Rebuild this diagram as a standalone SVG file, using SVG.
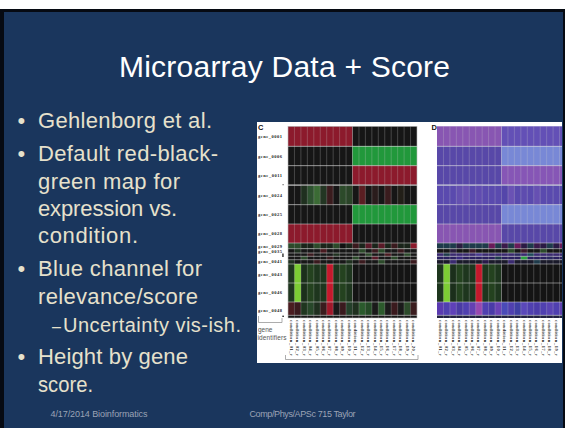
<svg xmlns="http://www.w3.org/2000/svg" width="565" height="428" viewBox="0 0 565 428">
  <style>
    .txt{font-family:"Liberation Sans",Arial,sans-serif;fill:#e6e1cc}
    .title{font-family:"Liberation Sans",Arial,sans-serif;font-size:30px;fill:#ffffff}
    .b{font-size:22px}
    .sub{font-size:20px}
    .dash{font-size:16px}
    .foot{font-family:"Liberation Sans",Arial,sans-serif;font-size:9px;fill:#9aa3b5}
    .gl{font-family:"Liberation Serif",serif;font-weight:bold;font-size:4.5px;fill:#222222}
    .cl{font-family:"Liberation Serif",serif;font-weight:bold;font-size:4.4px;fill:#1e1e1e}
    .pl{font-family:"Liberation Sans",Arial,sans-serif;font-weight:bold;font-size:7.5px;fill:#111111}
    .gi{font-family:"Liberation Sans",Arial,sans-serif;font-size:6.5px;fill:#555555}
    .hl{stroke:#dcdcdc;stroke-opacity:0.65;stroke-width:0.8;fill:none}
    .vl{stroke:#cfcfcf;stroke-opacity:0.45;stroke-width:0.6;fill:none}
    .br{stroke:#8a8a8a;stroke-width:0.7;fill:none}
  </style>
  <defs>
    <clipPath id="panelClip"><rect x="257" y="122" width="305" height="241"/></clipPath>
  </defs>

  <!-- slide frame -->
  <rect x="0" y="0" width="565" height="428" fill="#ffffff"/>
  <rect x="0" y="9" width="565" height="419" fill="#060a12"/>
  <rect x="4" y="12" width="559" height="416" fill="#1a365d"/>

  <!-- title -->
  <text id="title" class="title" x="119" y="77" textLength="331">Microarray Data + Score</text>

  <!-- bullet list -->
  <g id="bullets" class="txt">
    <text class="b" x="17.5" y="128">•</text>
    <text class="b" x="38" y="128" textLength="174">Gehlenborg et al.</text>
    <text class="b" x="17.5" y="161">•</text>
    <text class="b" x="38" y="161" textLength="180">Default red-black-</text>
    <text class="b" x="38" y="188.5" textLength="142">green map for</text>
    <text class="b" x="38" y="215.5" textLength="139">expression vs.</text>
    <text class="b" x="38" y="242.5" textLength="100">condition.</text>
    <text class="b" x="17.5" y="276">•</text>
    <text class="b" x="38" y="276" textLength="164">Blue channel for</text>
    <text class="b" x="38" y="303.5" textLength="160">relevance/score</text>
    <text class="dash" x="52" y="331.5">–</text>
    <text class="sub" x="63" y="331.5" textLength="178">Uncertainty vis-ish.</text>
    <text class="b" x="17.5" y="364">•</text>
    <text class="b" x="38" y="364" textLength="150">Height by gene</text>
    <text class="b" x="38" y="391.5" textLength="55" lengthAdjust="spacingAndGlyphs">score.</text>
  </g>

  <!-- footer -->
  <g id="footer">
    <text class="foot" x="50.5" y="417" textLength="97">4/17/2014 Bioinformatics</text>
    <text class="foot" x="249.5" y="417" textLength="106">Comp/Phys/APSc  715 Taylor</text>
  </g>

  <!-- heatmap figure -->
  <g id="figure" clip-path="url(#panelClip)">
    <rect x="257" y="122" width="305" height="241" fill="#ffffff"/>

    <!-- panel C: red-black-green expression map -->
    <g id="panel-c">
      <text class="pl" x="258" y="129.5">C</text>
      <!-- uniform blocks -->
      <rect x="288" y="126.3" width="64.5" height="20" fill="#8c1a2c"/>
      <rect x="352.5" y="126.3" width="64.5" height="20" fill="#161616"/>
      <rect x="288" y="146.3" width="64.5" height="19.4" fill="#161616"/>
      <rect x="352.5" y="146.3" width="64.5" height="19.4" fill="#21983b"/>
      <rect x="288" y="165.7" width="64.5" height="19" fill="#161616"/>
      <rect x="352.5" y="165.7" width="64.5" height="19" fill="#8c1a2c"/>
      <rect x="288" y="184.7" width="129" height="1" fill="#666666"/>
      <rect x="288" y="204.7" width="64.5" height="19.3" fill="#161616"/>
      <rect x="352.5" y="204.7" width="64.5" height="19.3" fill="#21983b"/>
      <rect x="288" y="224" width="64.5" height="19" fill="#8c1a2c"/>
      <rect x="352.5" y="224" width="64.5" height="19" fill="#161616"/>
      <!-- gene_0024 -->
      <rect x="288" y="185.7" width="129" height="19" fill="#161616"/>
      <g>
        <rect x="300.9" y="185.7" width="6.5" height="19" fill="#1f301f"/>
        <rect x="307.35" y="185.7" width="6.5" height="19" fill="#2e5230"/>
        <rect x="313.8" y="185.7" width="6.5" height="19" fill="#3b6b35"/>
        <rect x="320.25" y="185.7" width="6.5" height="19" fill="#233623"/>
        <rect x="326.7" y="185.7" width="6.5" height="19" fill="#3a1c1e"/>
        <rect x="339.6" y="185.7" width="6.5" height="19" fill="#2c4a2a"/>
        <rect x="346.05" y="185.7" width="6.5" height="19" fill="#2a4428"/>
        <rect x="358.95" y="185.7" width="6.5" height="19" fill="#5a1e22"/>
        <rect x="371.85" y="185.7" width="6.5" height="19" fill="#2a1c1c"/>
        <rect x="384.75" y="185.7" width="6.5" height="19" fill="#3a1c1e"/>
        <rect x="397.65" y="185.7" width="6.5" height="19" fill="#221f18"/>
      </g>
      <!-- gene_0029 -->
      <rect x="288" y="243" width="129" height="5.7" fill="#1a241a"/>
      <g>
        <rect x="288" y="243" width="6.5" height="5.7" fill="#2c4a2a"/>
        <rect x="294.45" y="243" width="6.5" height="5.7" fill="#2c4a2a"/>
        <rect x="313.8" y="243" width="6.5" height="5.7" fill="#2c4a2a"/>
        <rect x="333.15" y="243" width="6.5" height="5.7" fill="#2c4a2a"/>
        <rect x="339.6" y="243" width="6.5" height="5.7" fill="#111111"/>
        <rect x="352.5" y="243" width="6.5" height="5.7" fill="#3a1a1e"/>
        <rect x="365.4" y="243" width="6.5" height="5.7" fill="#5a1a28"/>
        <rect x="378.3" y="243" width="6.5" height="5.7" fill="#5a1a28"/>
        <rect x="391.2" y="243" width="6.5" height="5.7" fill="#3a1a1e"/>
        <rect x="410.55" y="243" width="6.5" height="5.7" fill="#8c1a2c"/>
      </g>
      <!-- gene_0035 and neighbours -->
      <rect x="288" y="248.7" width="129" height="15.3" fill="#171717"/>
      <g>
        <rect x="294.45" y="248.7" width="6.5" height="4.3" fill="#1f301f"/>
        <rect x="320.25" y="248.7" width="6.5" height="4.3" fill="#4a1a20"/>
        <rect x="358.95" y="248.7" width="6.5" height="4.3" fill="#2c4a2a"/>
        <rect x="371.85" y="248.7" width="6.5" height="4.3" fill="#3a1a1e"/>
        <rect x="378.3" y="248.7" width="6.5" height="4.3" fill="#2c4a2a"/>
        <rect x="397.65" y="248.7" width="6.5" height="4.3" fill="#3a1a1e"/>
        <rect x="307.35" y="253" width="6.5" height="3.3" fill="#3a1a1e"/>
        <rect x="333.15" y="253" width="6.5" height="3.3" fill="#1f301f"/>
        <rect x="365.4" y="253" width="6.5" height="3.3" fill="#2c4a2a"/>
        <rect x="384.75" y="253" width="6.5" height="3.3" fill="#4a1a20"/>
        <rect x="404.1" y="253" width="6.5" height="3.3" fill="#2c4a2a"/>
        <rect x="300.9" y="256.3" width="6.5" height="3.4" fill="#2c4a2a"/>
        <rect x="326.7" y="256.3" width="6.5" height="3.4" fill="#3a1a1e"/>
        <rect x="352.5" y="256.3" width="6.5" height="3.4" fill="#2c4a2a"/>
        <rect x="371.85" y="256.3" width="6.5" height="3.4" fill="#5a1a28"/>
        <rect x="391.2" y="256.3" width="6.5" height="3.4" fill="#2c4a2a"/>
        <rect x="288" y="259.7" width="6.5" height="4.3" fill="#1f301f"/>
        <rect x="313.8" y="259.7" width="6.5" height="4.3" fill="#3a1a1e"/>
        <rect x="346.05" y="259.7" width="6.5" height="4.3" fill="#1f301f"/>
        <rect x="358.95" y="259.7" width="6.5" height="4.3" fill="#3a1a1e"/>
        <rect x="378.3" y="259.7" width="6.5" height="4.3" fill="#2c4a2a"/>
        <rect x="410.55" y="259.7" width="6.5" height="4.3" fill="#3a1a1e"/>
      </g>
      <!-- gene_0043 / gene_0046 -->
      <rect x="288" y="264" width="64.5" height="38" fill="#1e361e"/>
      <rect x="352.5" y="264" width="64.5" height="38" fill="#141414"/>
      <rect x="300.9" y="264" width="6.5" height="38" fill="#1b2f1b"/>
      <rect x="307.35" y="264" width="6.5" height="38" fill="#24421f"/>
      <rect x="339.6" y="264" width="6.5" height="38" fill="#24421f"/>
      <rect x="294.45" y="264" width="6.5" height="38" fill="#7ccc34"/>
      <rect x="326.7" y="264" width="6.5" height="38" fill="#c4192c"/>
      <!-- gene_0048 -->
      <rect x="288" y="302" width="129" height="13.3" fill="#1a1a1a"/>
      <g>
        <rect x="288" y="302" width="6.5" height="13.3" fill="#4a1c20"/>
        <rect x="294.45" y="302" width="6.5" height="13.3" fill="#3a1a1e"/>
        <rect x="300.9" y="302" width="6.5" height="13.3" fill="#1f361f"/>
        <rect x="307.35" y="302" width="6.5" height="13.3" fill="#28482a"/>
        <rect x="313.8" y="302" width="6.5" height="13.3" fill="#1f2f1f"/>
        <rect x="320.25" y="302" width="6.5" height="13.3" fill="#3a1c1e"/>
        <rect x="326.7" y="302" width="6.5" height="13.3" fill="#a0182a"/>
        <rect x="339.6" y="302" width="6.5" height="13.3" fill="#3a1a1e"/>
        <rect x="346.05" y="302" width="6.5" height="13.3" fill="#24402a"/>
        <rect x="352.5" y="302" width="6.5" height="13.3" fill="#1f301f"/>
        <rect x="358.95" y="302" width="6.5" height="13.3" fill="#2a5a2c"/>
        <rect x="365.4" y="302" width="6.5" height="13.3" fill="#244a26"/>
        <rect x="378.3" y="302" width="6.5" height="13.3" fill="#2c5a2c"/>
        <rect x="391.2" y="302" width="6.5" height="13.3" fill="#3a1a1e"/>
        <rect x="404.1" y="302" width="6.5" height="13.3" fill="#2c4a2a"/>
        <rect x="410.55" y="302" width="6.5" height="13.3" fill="#3a1c1e"/>
      </g>
      <rect x="288" y="315.3" width="129" height="2.7" fill="#161616"/>
      <!-- grid -->
      <path class="vl" d="M294.45,126.3V318M300.9,126.3V318M307.35,126.3V318M313.8,126.3V318M320.25,126.3V318M326.7,126.3V318M333.15,126.3V318M339.6,126.3V318M346.05,126.3V318M352.5,126.3V318M358.95,126.3V318M365.4,126.3V318M371.85,126.3V318M378.3,126.3V318M384.75,126.3V318M391.2,126.3V318M397.65,126.3V318M404.1,126.3V318M410.55,126.3V318"/>
      <path class="hl" d="M288,146.3H417M288,165.7H417M288,185.2H417M288,204.7H417M288,224H417M288,243H417M288,248.7H417M288,253H417M288,256.3H417M288,259.7H417M288,264H417M288,283H417M288,302H417M288,315.3H417"/>
      <rect x="288" y="126.3" width="129" height="191.7" fill="none" stroke="#bbbbbb" stroke-width="0.6"/>
      <!-- gene identifiers -->
      <g>
        <text class="gl" x="258" y="137.5" textLength="24">gene_0001</text>
        <text class="gl" x="258" y="158" textLength="24">gene_0006</text>
        <text class="gl" x="258" y="177" textLength="24">gene_0011</text>
        <text class="gl" x="258" y="196.5" textLength="24">gene_0024</text>
        <text class="gl" x="258" y="216" textLength="24">gene_0025</text>
        <text class="gl" x="258" y="235" textLength="24">gene_0028</text>
        <text class="gl" x="258" y="247.5" textLength="24">gene_0029</text>
        <text class="gl" x="258" y="252.8" textLength="24">gene_0035</text>
        <text class="gl" x="258" y="262.8" textLength="24">gene_0041</text>
        <text class="gl" x="258" y="275.5" textLength="24">gene_0043</text>
        <text class="gl" x="258" y="294" textLength="24">gene_0046</text>
        <text class="gl" x="258" y="311.5" textLength="24">gene_0048</text>
        <rect x="282.5" y="184.3" width="1.2" height="0.9" fill="#333333"/>
        <rect x="282.3" y="253.5" width="1.3" height="3.5" fill="#222222"/>
        <rect x="282.4" y="315.6" width="1.4" height="1.4" fill="#111111"/>
      </g>
      <path class="br" d="M258.5,316V322.5H282V318"/>
      <text class="gi" x="258" y="332">gene</text>
      <text class="gi" x="257.5" y="340" textLength="29">identifiers</text>
      <!-- condition labels -->
      <g class="cl">
        <text transform="translate(291.2,320) rotate(90)" y="1.5" textLength="36">condition_01_r</text>
        <text transform="translate(297.65,320) rotate(90)" y="1.5" textLength="36">condition_02_r</text>
        <text transform="translate(304.1,320) rotate(90)" y="1.5" textLength="36">condition_03_r</text>
        <text transform="translate(310.55,320) rotate(90)" y="1.5" textLength="36">condition_04_r</text>
        <text transform="translate(317,320) rotate(90)" y="1.5" textLength="36">condition_05_r</text>
        <text transform="translate(323.45,320) rotate(90)" y="1.5" textLength="36">condition_06_r</text>
        <text transform="translate(329.9,320) rotate(90)" y="1.5" textLength="36">condition_07_r</text>
        <text transform="translate(336.35,320) rotate(90)" y="1.5" textLength="36">condition_08_r</text>
        <text transform="translate(342.8,320) rotate(90)" y="1.5" textLength="36">condition_09_r</text>
        <text transform="translate(349.25,320) rotate(90)" y="1.5" textLength="36">condition_10_r</text>
        <text transform="translate(355.7,320) rotate(90)" y="1.5" textLength="36">condition_11_r</text>
        <text transform="translate(362.15,320) rotate(90)" y="1.5" textLength="36">condition_12_r</text>
        <text transform="translate(368.6,320) rotate(90)" y="1.5" textLength="36">condition_13_r</text>
        <text transform="translate(375.05,320) rotate(90)" y="1.5" textLength="36">condition_14_r</text>
        <text transform="translate(381.5,320) rotate(90)" y="1.5" textLength="36">condition_15_r</text>
        <text transform="translate(387.95,320) rotate(90)" y="1.5" textLength="36">condition_16_r</text>
        <text transform="translate(394.4,320) rotate(90)" y="1.5" textLength="36">condition_17_r</text>
        <text transform="translate(400.85,320) rotate(90)" y="1.5" textLength="36">condition_18_r</text>
        <text transform="translate(407.3,320) rotate(90)" y="1.5" textLength="36">condition_19_r</text>
        <text transform="translate(413.75,320) rotate(90)" y="1.5" textLength="36">condition_20_r</text>
      </g>
      <path class="br" d="M285.5,355V359.5H418V355"/>
    </g>

    <!-- panel D: blue channel for relevance score -->
    <g id="panel-d">
      <text class="pl" x="431.5" y="129.5">D</text>
      <rect x="437" y="126.3" width="64.5" height="20" fill="#8856b2"/>
      <rect x="501.5" y="126.3" width="64.5" height="20" fill="#6350b6"/>
      <rect x="437" y="146.3" width="64.5" height="19.4" fill="#5848a8"/>
      <rect x="501.5" y="146.3" width="64.5" height="19.4" fill="#7888d6"/>
      <rect x="437" y="165.7" width="64.5" height="19" fill="#5848a8"/>
      <rect x="501.5" y="165.7" width="64.5" height="19" fill="#8656b6"/>
      <rect x="437" y="184.7" width="129" height="1" fill="#8a8ab8"/>
      <rect x="437" y="185.7" width="129" height="19" fill="#5a4aae"/>
      <g>
        <rect x="456.35" y="185.7" width="6.5" height="19" fill="#6450b0"/>
        <rect x="462.8" y="185.7" width="6.5" height="19" fill="#6a52b2"/>
        <rect x="475.7" y="185.7" width="6.5" height="19" fill="#604cb0"/>
        <rect x="501.5" y="185.7" width="6.5" height="19" fill="#5446aa"/>
        <rect x="507.95" y="185.7" width="6.5" height="19" fill="#6a52b4"/>
        <rect x="520.85" y="185.7" width="6.5" height="19" fill="#5e4caf"/>
        <rect x="533.75" y="185.7" width="6.5" height="19" fill="#6650b2"/>
      </g>
      <rect x="437" y="204.7" width="64.5" height="19.3" fill="#5848a8"/>
      <rect x="501.5" y="204.7" width="64.5" height="19.3" fill="#7888d6"/>
      <rect x="437" y="224" width="64.5" height="19" fill="#8856b2"/>
      <rect x="501.5" y="224" width="64.5" height="19" fill="#5848a8"/>
      <!-- thin rows -->
      <rect x="437" y="243" width="129" height="5.7" fill="#1e3a4a"/>
      <g>
        <rect x="456.35" y="243" width="6.5" height="5.7" fill="#2a1e40"/>
        <rect x="488.6" y="243" width="6.5" height="5.7" fill="#6a1a5a"/>
        <rect x="501.5" y="243" width="6.5" height="5.7" fill="#3a1a4a"/>
        <rect x="514.4" y="243" width="6.5" height="5.7" fill="#6a1a5a"/>
        <rect x="520.85" y="243" width="6.5" height="5.7" fill="#2a1a44"/>
        <rect x="533.75" y="243" width="6.5" height="5.7" fill="#3a1a4a"/>
        <rect x="540.2" y="243" width="6.5" height="5.7" fill="#2a1a44"/>
        <rect x="553.1" y="243" width="6.5" height="5.7" fill="#2a1a44"/>
        <rect x="559.55" y="243" width="6.5" height="5.7" fill="#6a1a5a"/>
      </g>
      <rect x="437" y="248.7" width="129" height="4.3" fill="#161616"/>
      <rect x="437" y="253" width="129" height="3.3" fill="#3a2a70"/>
      <rect x="437" y="256.3" width="129" height="3.4" fill="#2a2060"/>
      <rect x="437" y="259.7" width="129" height="4.3" fill="#1a1a2a"/>
      <g>
        <rect x="449.9" y="248.7" width="6.5" height="4.3" fill="#2a1e40"/>
        <rect x="469.25" y="248.7" width="6.5" height="4.3" fill="#3a1a2a"/>
        <rect x="507.95" y="248.7" width="6.5" height="4.3" fill="#2c4a2a"/>
        <rect x="520.85" y="248.7" width="6.5" height="4.3" fill="#3a1a2a"/>
        <rect x="540.2" y="248.7" width="6.5" height="4.3" fill="#2c4a2a"/>
        <rect x="443.45" y="253" width="6.5" height="3.3" fill="#1e3a4a"/>
        <rect x="475.7" y="253" width="6.5" height="3.3" fill="#4a3a90"/>
        <rect x="514.4" y="253" width="6.5" height="3.3" fill="#2a2a60"/>
        <rect x="527.3" y="253" width="6.5" height="3.3" fill="#1e4a5a"/>
        <rect x="456.35" y="256.3" width="6.5" height="3.4" fill="#3a2a80"/>
        <rect x="495.05" y="256.3" width="6.5" height="3.4" fill="#1e3a4a"/>
        <rect x="520.85" y="256.3" width="6.5" height="3.4" fill="#2ca040"/>
        <rect x="546.65" y="256.3" width="6.5" height="3.4" fill="#2a2a60"/>
        <rect x="449.9" y="259.7" width="6.5" height="4.3" fill="#3a2a70"/>
        <rect x="482.15" y="259.7" width="6.5" height="4.3" fill="#2a1a4a"/>
        <rect x="507.95" y="259.7" width="6.5" height="4.3" fill="#3a2a70"/>
        <rect x="533.75" y="259.7" width="6.5" height="4.3" fill="#1e3a4a"/>
      </g>
      <!-- gene_0043 / gene_0046 -->
      <rect x="437" y="264" width="64.5" height="38" fill="#1e361e"/>
      <rect x="501.5" y="264" width="64.5" height="38" fill="#141414"/>
      <rect x="449.9" y="264" width="6.5" height="38" fill="#1b2f1b"/>
      <rect x="456.35" y="264" width="6.5" height="38" fill="#24421f"/>
      <rect x="488.6" y="264" width="6.5" height="38" fill="#24421f"/>
      <rect x="443.45" y="264" width="6.5" height="38" fill="#7ccc34"/>
      <rect x="475.7" y="264" width="6.5" height="38" fill="#c4192c"/>
      <!-- gene_0048 -->
      <rect x="437" y="302" width="129" height="13.3" fill="#5040b0"/>
      <g>
        <rect x="437" y="302" width="6.5" height="13.3" fill="#5a3ab0"/>
        <rect x="449.9" y="302" width="6.5" height="13.3" fill="#5e40b8"/>
        <rect x="456.35" y="302" width="6.5" height="13.3" fill="#4a3aa4"/>
        <rect x="469.25" y="302" width="6.5" height="13.3" fill="#6440b2"/>
        <rect x="475.7" y="302" width="6.5" height="13.3" fill="#9848b0"/>
        <rect x="488.6" y="302" width="6.5" height="13.3" fill="#4a3aa8"/>
        <rect x="495.05" y="302" width="6.5" height="13.3" fill="#6a42b6"/>
        <rect x="501.5" y="302" width="6.5" height="13.3" fill="#4a4ab8"/>
        <rect x="514.4" y="302" width="6.5" height="13.3" fill="#4040a4"/>
        <rect x="520.85" y="302" width="6.5" height="13.3" fill="#5a48ba"/>
        <rect x="533.75" y="302" width="6.5" height="13.3" fill="#4c3caa"/>
        <rect x="546.65" y="302" width="6.5" height="13.3" fill="#5a44b4"/>
        <rect x="559.55" y="302" width="6.5" height="13.3" fill="#6040b0"/>
      </g>
      <rect x="437" y="315.3" width="129" height="2.7" fill="#222240"/>
      <!-- grid -->
      <path class="vl" d="M443.45,126.3V318M449.9,126.3V318M456.35,126.3V318M462.8,126.3V318M469.25,126.3V318M475.7,126.3V318M482.15,126.3V318M488.6,126.3V318M495.05,126.3V318M501.5,126.3V318M507.95,126.3V318M514.4,126.3V318M520.85,126.3V318M527.3,126.3V318M533.75,126.3V318M540.2,126.3V318M546.65,126.3V318M553.1,126.3V318M559.55,126.3V318"/>
      <path class="hl" d="M437,146.3H566M437,165.7H566M437,185.2H566M437,204.7H566M437,224H566M437,243H566M437,248.7H566M437,253H566M437,256.3H566M437,259.7H566M437,264H566M437,283H566M437,302H566M437,315.3H566"/>
      <g class="cl">
        <text transform="translate(440.2,320) rotate(90)" y="1.5" textLength="36">condition_01_r</text>
        <text transform="translate(446.65,320) rotate(90)" y="1.5" textLength="36">condition_02_r</text>
        <text transform="translate(453.1,320) rotate(90)" y="1.5" textLength="36">condition_03_r</text>
        <text transform="translate(459.55,320) rotate(90)" y="1.5" textLength="36">condition_04_r</text>
        <text transform="translate(466,320) rotate(90)" y="1.5" textLength="36">condition_05_r</text>
        <text transform="translate(472.45,320) rotate(90)" y="1.5" textLength="36">condition_06_r</text>
        <text transform="translate(478.9,320) rotate(90)" y="1.5" textLength="36">condition_07_r</text>
        <text transform="translate(485.35,320) rotate(90)" y="1.5" textLength="36">condition_08_r</text>
        <text transform="translate(491.8,320) rotate(90)" y="1.5" textLength="36">condition_09_r</text>
        <text transform="translate(498.25,320) rotate(90)" y="1.5" textLength="36">condition_10_r</text>
        <text transform="translate(504.7,320) rotate(90)" y="1.5" textLength="36">condition_11_r</text>
        <text transform="translate(511.15,320) rotate(90)" y="1.5" textLength="36">condition_12_r</text>
        <text transform="translate(517.6,320) rotate(90)" y="1.5" textLength="36">condition_13_r</text>
        <text transform="translate(524.05,320) rotate(90)" y="1.5" textLength="36">condition_14_r</text>
        <text transform="translate(530.5,320) rotate(90)" y="1.5" textLength="36">condition_15_r</text>
        <text transform="translate(536.95,320) rotate(90)" y="1.5" textLength="36">condition_16_r</text>
        <text transform="translate(543.4,320) rotate(90)" y="1.5" textLength="36">condition_17_r</text>
        <text transform="translate(549.85,320) rotate(90)" y="1.5" textLength="36">condition_18_r</text>
        <text transform="translate(556.3,320) rotate(90)" y="1.5" textLength="36">condition_19_r</text>
      </g>
    </g>
  </g>
</svg>
